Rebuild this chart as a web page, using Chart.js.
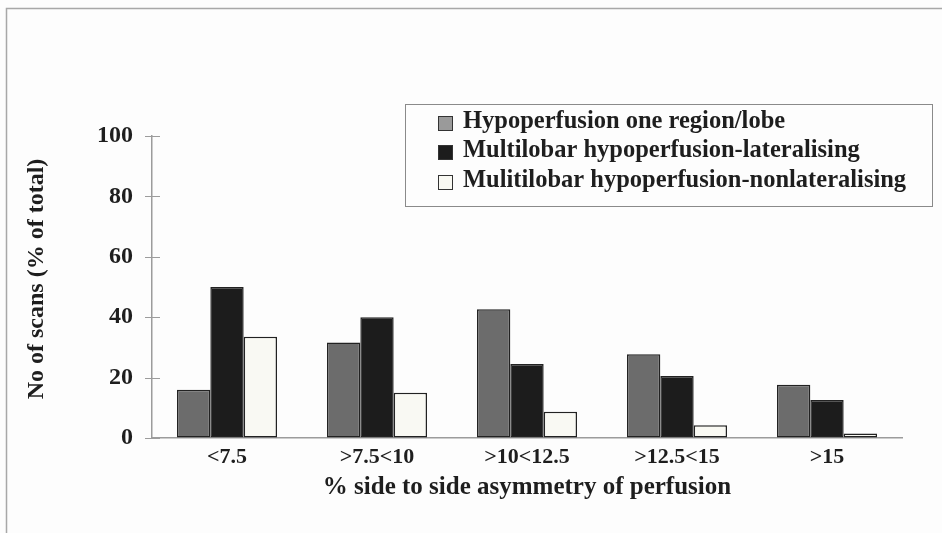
<!DOCTYPE html>
<html>
<head>
<meta charset="utf-8">
<script src="https://cdn.jsdelivr.net/npm/chart.js@4/dist/chart.umd.min.js"></script>
<style>
  html, body { margin: 0; padding: 0; background: #fdfdfd; }
  #wrap { width: 942px; height: 533px; position: relative; }
</style>
</head>
<body>
<div id="wrap"><canvas id="c" width="942" height="533"></canvas></div>
<script>
// Asymmetry bands on the x axis
const categories = ['<7.5', '>7.5<10', '>10<12.5', '>12.5<15', '>15'];
// Percentage of scans in each band, per hypoperfusion pattern
const oneRegion = [16, 31.6, 42.6, 27.7, 17.6];
const lateralising = [50, 40, 24.5, 20.5, 12.6];
const nonLateralising = [33.5, 15, 8.7, 4.2, 1.5];
const seriesNames = [
  'Hypoperfusion one region/lobe',
  'Multilobar hypoperfusion-lateralising',
  'Mulitilobar hypoperfusion-nonlateralising'
];
const yTicks = [0, 20, 40, 60, 80, 100];
const yTitle = 'No of scans (% of total)';
const xTitle = '% side to side asymmetry of perfusion';

const serif = "'Liberation Serif', 'Times New Roman', serif";
const axisGrey = '#9c9c9c';
const ink = '#1e1e1e';

// Page frame, tick marks crossing the y axis, the y title and the boxed legend
const decorations = {
  id: 'decorations',
  beforeDraw(chart) {
    const ctx = chart.ctx;
    ctx.save();
    ctx.fillStyle = '#fdfdfd';
    ctx.fillRect(0, 0, chart.width, chart.height);
    ctx.strokeStyle = '#a8a8a8';
    ctx.lineWidth = 1.5;
    ctx.beginPath();
    ctx.moveTo(6.5, chart.height);
    ctx.lineTo(6.5, 8.5);
    ctx.lineTo(chart.width, 8.5);
    ctx.stroke();
    ctx.restore();
  },
  afterDraw(chart) {
    const ctx = chart.ctx;
    const y = chart.scales.y;
    const x0 = chart.chartArea.left;
    ctx.save();
    ctx.strokeStyle = axisGrey;
    ctx.lineWidth = 1;
    yTicks.forEach(v => {
      const py = Math.round(y.getPixelForValue(v)) + 0.5;
      ctx.beginPath();
      ctx.moveTo(x0 - 7, py);
      ctx.lineTo(x0 + 8, py);
      ctx.stroke();
    });

    // rotated y-axis title
    ctx.save();
    ctx.translate(37, 279);
    ctx.rotate(-Math.PI / 2);
    ctx.font = "bold 24px " + serif;
    ctx.fillStyle = ink;
    ctx.textAlign = 'center';
    ctx.textBaseline = 'middle';
    ctx.fillText(yTitle, 0, 0);
    ctx.restore();

    // legend box
    const bx = 405.5, by = 104.5, bw = 527, bh = 102;
    ctx.strokeStyle = '#8a8a8a';
    ctx.lineWidth = 1;
    ctx.strokeRect(bx, by, bw, bh);
    ctx.font = "bold 24.5px " + serif;
    ctx.textBaseline = 'middle';
    ctx.textAlign = 'left';
    const rows = [122, 151, 181];
    chart.data.datasets.forEach((ds, i) => {
      const cy = rows[i];
      ctx.fillStyle = i === 0 ? '#9a9a9a' : ds.backgroundColor;
      ctx.fillRect(438, cy - 6, 15, 15);
      ctx.strokeStyle = '#333';
      ctx.lineWidth = 1;
      ctx.strokeRect(438.5, cy - 5.5, 14, 14);
      ctx.fillStyle = ink;
      ctx.fillText(ds.label, 463, cy);
    });
    ctx.restore();
  }
};

const colors = ['#6c6c6c', '#1c1c1c', '#f9f9f3'];
const values = [oneRegion, lateralising, nonLateralising];

new Chart(document.getElementById('c'), {
  type: 'bar',
  data: {
    labels: categories,
    datasets: values.map((vals, i) => ({
      label: seriesNames[i],
      data: vals,
      backgroundColor: colors[i],
      borderColor: '#222222',
      borderWidth: 1.5,
      borderSkipped: false,
      barPercentage: 1,
      categoryPercentage: 0.667
    }))
  },
  options: {
    responsive: false,
    animation: false,
    devicePixelRatio: 1,
    layout: { padding: { left: 0, top: 136, right: 40, bottom: 0 } },
    plugins: {
      legend: { display: false },
      tooltip: { enabled: false }
    },
    scales: {
      x: {
        afterFit(scale) { scale.height = 95; },
        grid: { display: false, drawTicks: false },
        border: { display: true, color: axisGrey, width: 1.5 },
        ticks: {
          padding: 6,
          color: ink,
          font: { family: serif, size: 22, weight: 'bold' }
        },
        title: {
          display: true,
          text: xTitle,
          color: ink,
          font: { family: serif, size: 25, weight: 'bold' },
          padding: { top: 0, bottom: 30 }
        }
      },
      y: {
        min: 0,
        max: 100,
        afterFit(scale) { scale.width = 152; },
        afterBuildTicks(scale) { scale.ticks = yTicks.map(v => ({ value: v })); },
        grid: { display: true, drawOnChartArea: false, drawTicks: false },
        border: { display: true, color: axisGrey, width: 1.5 },
        ticks: {
          padding: 19,
          color: ink,
          font: { family: serif, size: 24, weight: 'bold' }
        },
        title: { display: false }
      }
    }
  },
  plugins: [decorations]
});
</script>
</body>
</html>
